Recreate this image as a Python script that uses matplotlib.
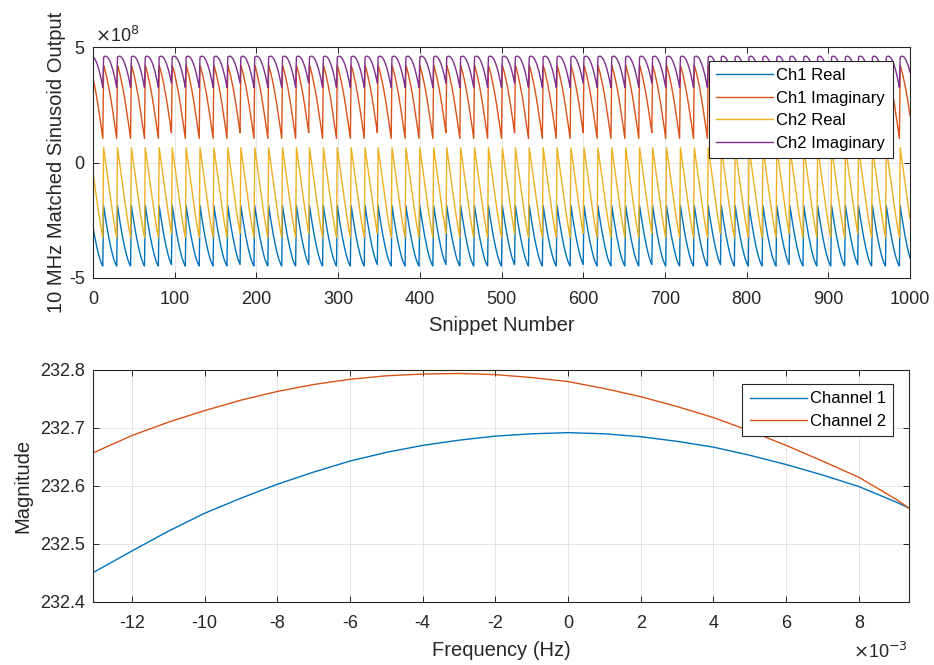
import matplotlib
matplotlib.use("Agg")
import matplotlib.pyplot as plt
import matplotlib.ticker
import numpy as np

# One wrap of the matched output (x1e8), one value per snippet
ch1_real_cycle = [-1.87, -2.11, -2.34, -2.57, -2.78, -2.99, -3.19, -3.37, -3.55,
                  -3.71, -3.86, -4.00, -4.13, -4.24, -4.33, -4.42, -4.48]
ch1_imag_cycle = [4.20, 4.09, 3.96, 3.82, 3.66, 3.50, 3.32, 3.13, 2.93,
                  2.72, 2.50, 2.27, 2.04, 1.79, 1.55, 1.29, 1.04]
ch2_real_cycle = [0.64, 0.38, 0.11, -0.16, -0.42, -0.69, -0.95, -1.21, -1.46,
                  -1.71, -1.95, -2.19, -2.42, -2.64, -2.86, -3.06, -3.25]
ch2_imag_cycle = [4.56, 4.59, 4.60, 4.60, 4.58, 4.55, 4.50, 4.44, 4.36,
                  4.27, 4.16, 4.05, 3.91, 3.77, 3.61, 3.43, 3.25]
first_cycle_offset = 4          # snippet 0 sits 4 samples into a wrap
cycle_lengths = [17, 17, 17, 17, 16] * 12
n_snippets = 1001

# Magnitude around the peak
freq = [-13.07, -13, -12, -11, -10, -9, -8, -7, -6, -5, -4, -3, -2, -1,
        0, 1, 2, 3, 4, 5, 6, 7, 8, 9, 9.38]  # x1e-3 Hz
channel1 = [232.451, 232.453, 232.488, 232.522, 232.553, 232.579, 232.603, 232.624,
            232.643, 232.658, 232.670, 232.679, 232.686, 232.690, 232.692, 232.690,
            232.685, 232.677, 232.667, 232.653, 232.637, 232.619, 232.599, 232.573,
            232.562]
channel2 = [232.657, 232.659, 232.687, 232.710, 232.730, 232.748, 232.763, 232.775,
            232.784, 232.790, 232.793, 232.794, 232.792, 232.787, 232.780, 232.768,
            232.754, 232.737, 232.718, 232.695, 232.670, 232.643, 232.615, 232.578,
            232.562]

colors = ["#0072BD", "#D95319", "#EDB120", "#7E2F8E"]
text_color = "#262626"


def unwrap_cycles(cycle):
    parts = [cycle[first_cycle_offset:]]
    for length in cycle_lengths:
        parts.append(cycle[:length])
    return 1e8 * np.concatenate(parts)[:n_snippets]


def matlab_style(plot):
    plot.grid(True, color="#e0e0e0", linewidth=0.6)
    plot.set_axisbelow(True)
    plot.tick_params(direction="in", top=True, right=True, length=4,
                     labelsize=13, colors=text_color, width=0.7)
    plot.tick_params(axis="x", pad=9)
    plot.tick_params(axis="y", pad=6)
    for spine in plot.spines.values():
        spine.set_color(text_color)
        spine.set_linewidth(0.8)


def scaled(power):
    return matplotlib.ticker.FuncFormatter(lambda v, p: f"{v / 10**power:g}")


def add_legend(plot, anchor):
    legend = plot.legend(loc="upper right", bbox_to_anchor=anchor, fontsize=12,
                         fancybox=False, framealpha=1, edgecolor=text_color,
                         handlelength=3.4, borderpad=0.45, labelspacing=0.45,
                         handletextpad=0.2, borderaxespad=0)
    legend.get_frame().set_linewidth(0.8)


def main():
    plt.rcParams["font.family"] = ["Liberation Sans", "DejaVu Sans"]
    plt.rcParams["axes.unicode_minus"] = False

    figure = plt.figure(figsize=(9.34, 6.65), dpi=100)
    top = figure.add_axes([93/934, 1-278/665, 817/934, 231/665])
    bottom = figure.add_axes([93/934, 1-602/665, 816/934, 232/665])

    snippets = np.arange(n_snippets)
    series = [ch1_real_cycle, ch1_imag_cycle, ch2_real_cycle, ch2_imag_cycle]
    labels = ["Ch1 Real", "Ch1 Imaginary", "Ch2 Real", "Ch2 Imaginary"]
    for cycle, color, label in zip(series, colors, labels):
        top.plot(snippets, unwrap_cycles(cycle), color=color, linewidth=1.0, label=label)
    top.set(xlim=(0, 1000), ylim=(-5e8, 5e8))
    top.set_xticks(np.arange(0, 1001, 100))
    top.set_yticks([-5e8, 0, 5e8])
    top.yaxis.set_major_formatter(scaled(8))
    top.text(0.003, 1.006, r"$\times$10$^{8}$", transform=top.transAxes,
             fontsize=13, color=text_color, ha="left", va="bottom")
    top.set_xlabel("Snippet Number", fontsize=14.5, color=text_color, labelpad=6)
    top.set_ylabel("10 MHz Matched Sinusoid Output", fontsize=14.5, color=text_color,
                   labelpad=2)
    matlab_style(top)
    add_legend(top, (0.979, 0.941))

    freq_hz = 1e-3 * np.array(freq)
    bottom.plot(freq_hz, channel1, color=colors[0], linewidth=1.0, label="Channel 1")
    bottom.plot(freq_hz, channel2, color=colors[1], linewidth=1.0, label="Channel 2")
    bottom.set(xlim=(freq_hz[0], freq_hz[-1]), ylim=(232.4, 232.8))
    bottom.set_xticks(1e-3 * np.arange(-12, 9, 2))
    bottom.set_yticks(np.arange(232.4, 232.81, 0.1))
    bottom.yaxis.set_major_formatter(matplotlib.ticker.FormatStrFormatter("%.1f"))
    bottom.xaxis.set_major_formatter(scaled(-3))
    bottom.text(0.998, -0.172, r"$\times$10$^{-3}$", transform=bottom.transAxes,
                fontsize=13, color=text_color, ha="right", va="top")
    bottom.set_xlabel("Frequency (Hz)", fontsize=14.5, color=text_color, labelpad=7)
    bottom.set_ylabel("Magnitude", fontsize=14.5, color=text_color, labelpad=5)
    matlab_style(bottom)
    add_legend(bottom, (0.981, 0.94))

    figure.savefig("out.png", dpi=100)


if __name__ == "__main__":
    main()
